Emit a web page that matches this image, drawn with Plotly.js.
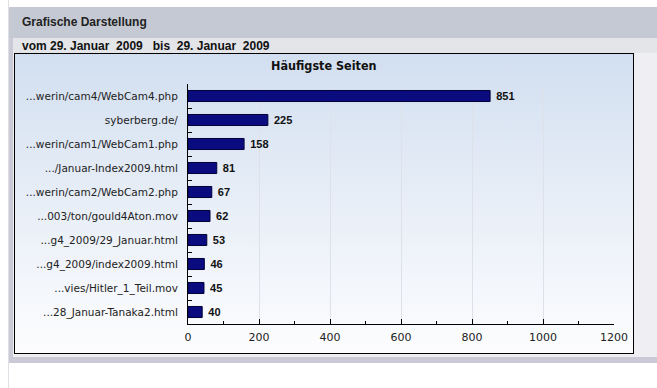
<!DOCTYPE html>
<html><head><meta charset="utf-8">
<script src="https://cdn.plot.ly/plotly-3.0.1.min.js"></script>
<style>
body{margin:0;background:#fff;}
#wrap{position:relative;width:657px;height:388px;overflow:hidden;background:#fff;}
.bg{position:absolute;}
</style></head><body>
<div id="wrap">
<div class="bg" style="left:8px;top:0;width:1px;height:388px;background:#dedee4"></div>
<div class="bg" style="left:9px;top:7px;width:648px;height:31px;background:#c5c9d3"></div>
<div class="bg" style="left:9px;top:38px;width:648px;height:15px;background:#e3e5e9"></div>
<div class="bg" style="left:9px;top:53px;width:648px;height:304px;background:#eeeef3"></div>
<div class="bg" style="left:9px;top:38px;width:4px;height:325px;background:#c9cad5"></div>
<div class="bg" style="left:9px;top:357px;width:648px;height:6px;background:#c9cad5"></div>
<div class="bg" style="left:14px;top:53px;width:618px;height:299px;border:1px solid #000;background:linear-gradient(#d2dff0,#fdfdfe)"></div>
<div id="chart" style="position:absolute;left:0;top:0;width:657px;height:388px"></div>
</div>
<script>
const categories = [
  "...werin/cam4/WebCam4.php",
  "syberberg.de/",
  "...werin/cam1/WebCam1.php",
  ".../Januar-Index2009.html",
  "...werin/cam2/WebCam2.php",
  "...003/ton/gould4Aton.mov",
  "...g4_2009/29_Januar.html",
  "...g4_2009/index2009.html",
  "...vies/Hitler_1_Teil.mov",
  "...28_Januar-Tanaka2.html"
];
const hits = [851, 225, 158, 81, 67, 62, 53, 46, 45, 40];
const chartTitle = "Häufigste Seiten";
const headerTitle = "Grafische Darstellung";
const periodText = "vom 29. Januar\u00a0 2009\u00a0\u00a0 bis\u00a0 29. Januar\u00a0 2009";

// plot area in pixels
const L = 188, R = 614, T = 84, B = 324, W = 657, H = 388;
function P(px, py) { return { x: (px - L) / (R - L), y: (B - py) / (B - T) }; }

const trace = {
  type: 'bar',
  orientation: 'h',
  x: hits,
  y: categories,
  text: hits.map(String),
  texttemplate: '\u00a0%{text}',
  textposition: 'outside',
  constraintext: 'none',
  cliponaxis: false,
  textfont: { family: '"Liberation Sans", Arial, sans-serif', size: 11, color: '#111', weight: 'bold' },
  marker: { color: '#0b0b80', line: { color: '#00003a', width: 1 } },
  width: 0.46,
  hoverinfo: 'skip'
};

const a1 = P(20, 22), a2 = P(20, 46), a3 = P(323.5, 65);
const layout = {
  width: W, height: H,
  margin: { l: L, r: W - R, t: T, b: H - B, pad: 0 },
  paper_bgcolor: 'rgba(0,0,0,0)',
  plot_bgcolor: 'rgba(0,0,0,0)',
  showlegend: false,
  font: { family: '"DejaVu Sans", Verdana, sans-serif', size: 11, color: '#222' },
  xaxis: {
    range: [0, 1200], tickmode: 'linear', tick0: 0, dtick: 200,
    ticks: 'inside', ticklen: 5, tickcolor: '#000', tickwidth: 1,
    showline: true, linecolor: '#000', linewidth: 1, mirror: false,
    showgrid: true, gridcolor: '#dde1ea', gridwidth: 1, zeroline: false,
    minor: { dtick: 100, tick0: 0, ticks: 'inside', ticklen: 3, tickcolor: '#000', showgrid: false },
    tickfont: { family: '"DejaVu Sans", Verdana, sans-serif', size: 11, color: '#222' },
    ticklabelstandoff: 3,
    fixedrange: true
  },
  yaxis: {
    type: 'category', autorange: 'reversed',
    tickson: 'boundaries', ticks: 'inside', ticklen: 4, tickcolor: '#000',
    showline: true, linecolor: '#000', linewidth: 1, showgrid: false, zeroline: false,
    tickfont: { family: '"DejaVu Sans", Verdana, sans-serif', size: 10.5, color: '#222' },
    ticklabelstandoff: 7,
    fixedrange: true
  },
  annotations: [
    { text: headerTitle, xref: 'paper', yref: 'paper', x: a1.x, y: a1.y, xanchor: 'left', yanchor: 'middle', showarrow: false,
      font: { family: '"Liberation Sans", Arial, sans-serif', size: 12, color: '#222', weight: 'bold' } },
    { text: periodText, xref: 'paper', yref: 'paper', x: a2.x, y: a2.y, xanchor: 'left', yanchor: 'middle', showarrow: false,
      font: { family: '"Liberation Sans", Arial, sans-serif', size: 12, color: '#111', weight: 'bold' } },
    { text: chartTitle, xref: 'paper', yref: 'paper', x: a3.x, y: a3.y, xanchor: 'center', yanchor: 'middle', showarrow: false,
      font: { family: '"DejaVu Sans Condensed", "DejaVu Sans", sans-serif', size: 12.5, color: '#111', weight: 'bold' } }
  ]
};

Plotly.newPlot('chart', [trace], layout, { displayModeBar: false, staticPlot: true });
</script>
</body></html>
